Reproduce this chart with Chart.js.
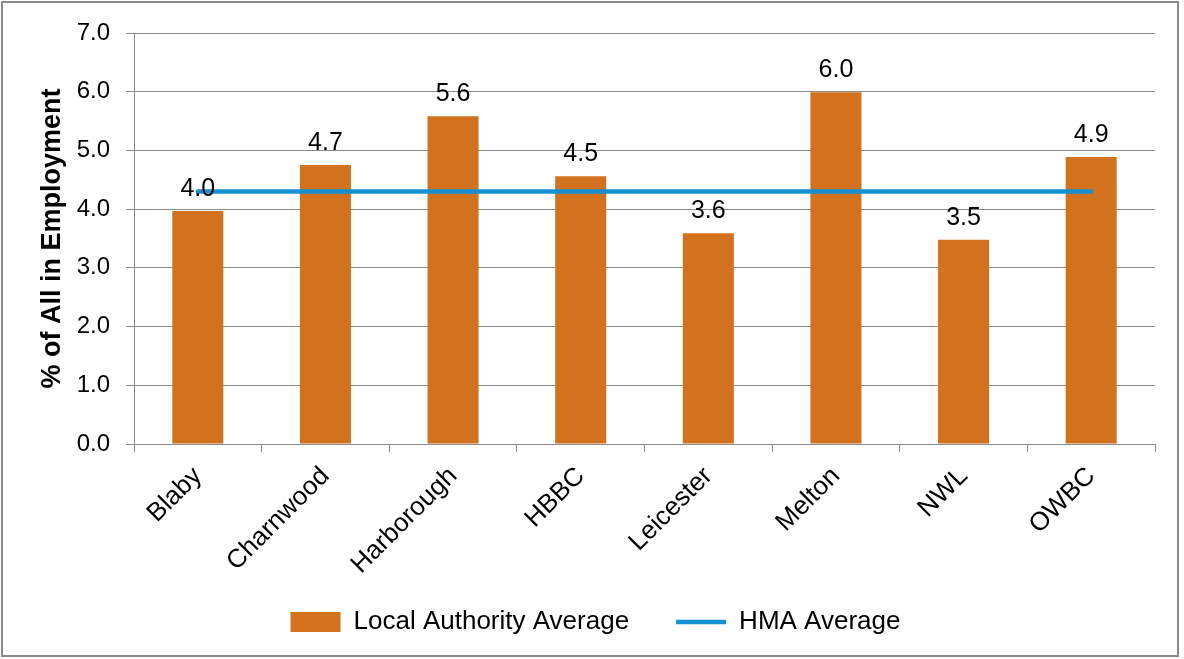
<!DOCTYPE html>
<html>
<head>
<meta charset="utf-8">
<script src="https://cdn.jsdelivr.net/npm/chart.js@4.4.1/dist/chart.umd.min.js"></script>
<style>
  html, body { margin: 0; padding: 0; background: #fff; }
  #wrap { width: 1184px; height: 659px; position: relative; }
</style>
</head>
<body>
<div id="wrap"><canvas id="chart" width="1184" height="659"></canvas></div>
<script>
const categories = ['Blaby', 'Charnwood', 'Harborough', 'HBBC', 'Leicester', 'Melton', 'NWL', 'OWBC'];
const localAverage = [3.97, 4.75, 5.58, 4.56, 3.59, 5.99, 3.48, 4.89];
const barLabels = ['4.0', '4.7', '5.6', '4.5', '3.6', '6.0', '3.5', '4.9'];
const hmaAverage = [4.3, 4.3, 4.3, 4.3, 4.3, 4.3, 4.3, 4.3];
const yTicks = [0, 1, 2, 3, 4, 5, 6, 7];

const FONT = "'Liberation Sans', Arial, sans-serif";

// outer frame round the whole chart
const framePlugin = {
    id: 'frame',
    beforeDraw(chart) {
        const ctx = chart.ctx;
        ctx.save();
        ctx.fillStyle = '#fff';
        ctx.fillRect(0, 0, chart.width, chart.height);
        ctx.strokeStyle = '#8a8a8a';
        ctx.lineWidth = 2;
        ctx.strokeRect(2, 2, chart.width - 8, chart.height - 5);
        ctx.restore();
    },
    // rotated x labels are clipped to the scale box; let them run into the legend band
    afterLayout(chart) {
        chart.scales.x.bottom += 40;
    }
};

// value labels above the bars (bars are dataset 1)
const barLabelPlugin = {
    id: 'barLabels',
    afterDatasetsDraw(chart) {
        const ctx = chart.ctx;
        const meta = chart.getDatasetMeta(1);
        ctx.save();
        ctx.font = '25px ' + FONT;
        ctx.fillStyle = '#000';
        ctx.textAlign = 'center';
        ctx.textBaseline = 'alphabetic';
        meta.data.forEach((bar, i) => {
            ctx.fillText(barLabels[i], bar.x, bar.y - 15);
        });
        ctx.restore();
    }
};

new Chart(document.getElementById('chart'), {
    type: 'bar',
    data: {
        labels: categories,
        datasets: [
            {
                type: 'line',
                label: 'HMA Average',
                data: hmaAverage,
                borderColor: '#1591d2',
                backgroundColor: '#1591d2',
                borderWidth: 4.5,
                borderCapStyle: 'round',
                pointRadius: 0,
                pointStyle: 'line',
                order: 0
            },
            {
                label: 'Local Authority Average',
                data: localAverage,
                backgroundColor: '#d2721e',
                borderWidth: 0,
                categoryPercentage: 1,
                barPercentage: 0.4,
                pointStyle: 'rect',
                order: 1
            }
        ]
    },
    options: {
        responsive: false,
        animation: false,
        layout: { padding: { top: 33, right: 29, bottom: 14, left: 36 } },
        plugins: {
            legend: {
                position: 'bottom',
                reverse: true,
                labels: {
                    usePointStyle: true,
                    pointStyleWidth: 50,
                    boxHeight: 20,
                    padding: 47,
                    color: '#000',
                    font: { family: FONT, size: 26 }
                }
            },
            tooltip: { enabled: false }
        },
        scales: {
            x: {
                grid: { drawOnChartArea: false, drawTicks: true, tickLength: 8, color: '#8a8a8a' },
                border: { color: '#8a8a8a' },
                ticks: {
                    color: '#000',
                    font: { family: FONT, size: 26 },
                    maxRotation: 45,
                    minRotation: 45,
                    padding: 9
                },
                afterFit(scale) { scale.height = 118; }
            },
            y: {
                min: 0,
                max: 7,
                afterBuildTicks(scale) { scale.ticks = yTicks.map(v => ({ value: v })); },
                grid: { color: '#8a8a8a', tickLength: 8 },
                border: { color: '#8a8a8a' },
                ticks: {
                    color: '#000',
                    font: { family: FONT, size: 24 },
                    padding: 16,
                    callback: v => v.toFixed(1)
                },
                title: {
                    display: true,
                    text: '% of All in Employment',
                    color: '#000',
                    font: { family: FONT, size: 27, weight: 'bold' },
                    padding: 0
                },
                afterFit(scale) { scale.width = 98; }
            }
        }
    },
    plugins: [framePlugin, barLabelPlugin]
});
</script>
</body>
</html>
